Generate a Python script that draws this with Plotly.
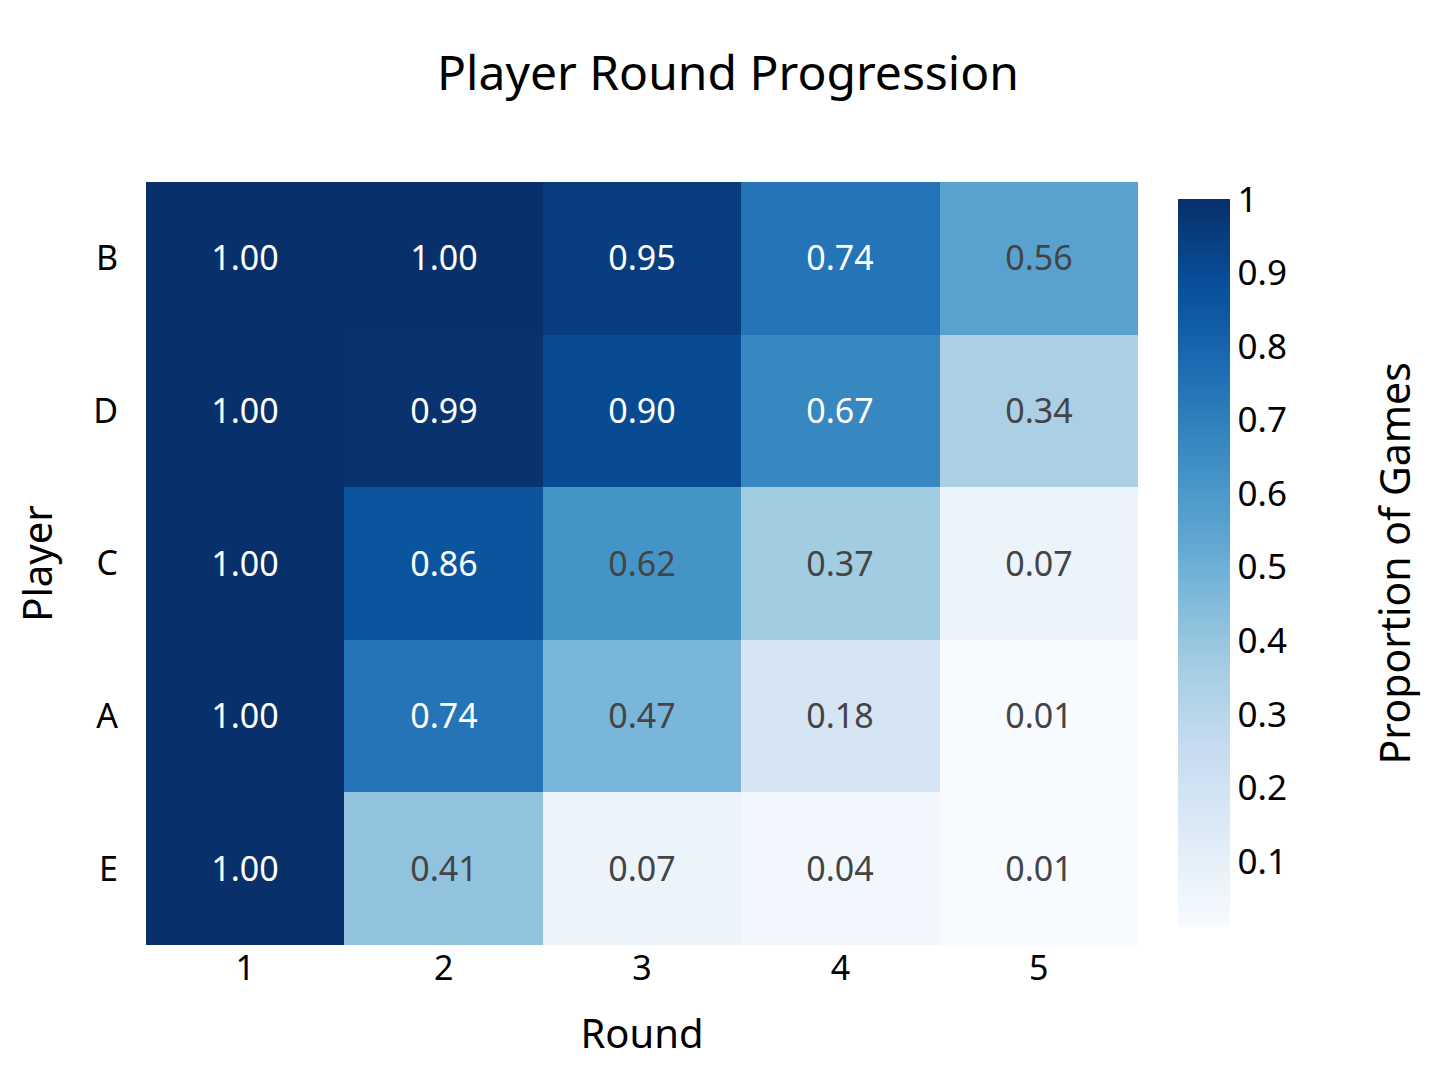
import plotly.graph_objects as go
import plotly.colors as pc

rounds = ["1", "2", "3", "4", "5"]
players = ["B", "D", "C", "A", "E"]

prop_b = [1.00, 1.00, 0.95, 0.74, 0.56]
prop_d = [1.00, 0.99, 0.90, 0.67, 0.34]
prop_c = [1.00, 0.86, 0.62, 0.37, 0.07]
prop_a = [1.00, 0.74, 0.47, 0.18, 0.01]
prop_e = [1.00, 0.41, 0.07, 0.04, 0.01]

z = [prop_b, prop_d, prop_c, prop_a, prop_e]

FONT = "Noto Sans"
W, H = 1440, 1076

fig = go.Figure(go.Heatmap(
    z=z,
    x=rounds,
    y=players,
    colorscale=pc.sequential.Blues,
    texttemplate="%{z:.2f}",
    textfont=dict(family=FONT, size=34),
    colorbar=dict(
        thickness=52,
        len=728 / 763,
        x=1 + 40 / 992,
        xanchor="left",
        xpad=0,
        ypad=0,
        outlinewidth=0,
        tickfont=dict(family=FONT, size=35, color="black"),
        dtick=0.1,
        ticks="",
    ),
))

fig.update_layout(
    width=W,
    height=H,
    margin=dict(l=138, r=310, t=174, b=139),
    plot_bgcolor="white",
    paper_bgcolor="white",
    font=dict(family=FONT, color="black"),
    title=dict(text="Player Round Progression", x=0.5, xref="container",
               y=1 - 65 / H, yref="container", yanchor="middle",
               font=dict(family=FONT, size=48, color="black")),
    annotations=[dict(text="Proportion of Games", textangle=-90,
                      x=(1385 - 138) / 992, y=0.5, xref="paper", yref="paper",
                      xanchor="center", yanchor="middle",
                      showarrow=False, font=dict(family=FONT, size=41, color="black"))],
)
fig.update_xaxes(title=dict(text="Round", font=dict(size=40), standoff=30),
                 tickfont=dict(size=34), showgrid=False, zeroline=False, ticks="")
fig.update_yaxes(title=dict(text="Player", font=dict(size=40), standoff=28),
                 tickfont=dict(size=34), autorange="reversed",
                 showgrid=False, zeroline=False, ticks="", ticklabelstandoff=27)

fig.write_html("out.html")
